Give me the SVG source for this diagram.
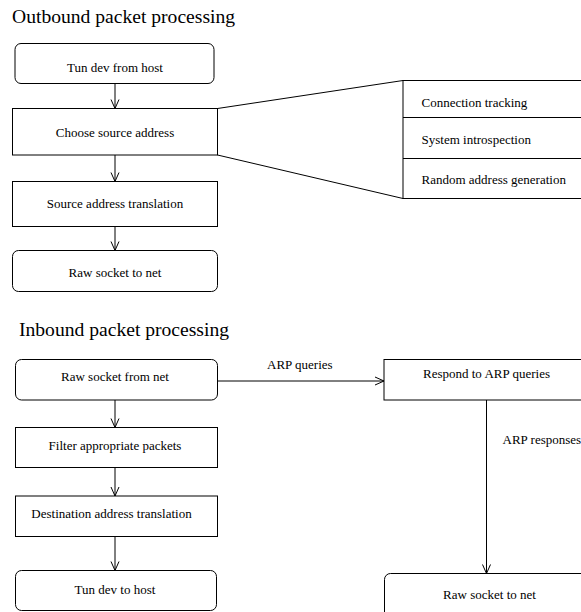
<svg xmlns="http://www.w3.org/2000/svg" width="581" height="612" viewBox="0 0 581 612">
<style>
.bx{fill:#fff;stroke:#000;stroke-width:1}
.t{font-family:"Liberation Serif","Times New Roman",serif;font-size:13px;fill:#000}
.c{text-anchor:middle}
.h{font-family:"Liberation Serif","Times New Roman",serif;font-size:19.6px;fill:#000}
.ln{stroke:#000;stroke-width:1;fill:none}
</style>
<defs>
<marker id="ah" viewBox="0 0 10 10" refX="10" refY="5" markerWidth="10" markerHeight="10" markerUnits="userSpaceOnUse" orient="auto">
<path d="M1,1 L10,5 L1,9" fill="none" stroke="#000" stroke-width="1"/>
</marker>
</defs>
<rect width="581" height="612" fill="#fff"/>
<text class="h" x="12" y="22.5">Outbound packet processing</text>
<text class="h" x="19" y="335.5">Inbound packet processing</text>
<g id="connectors">
<line class="ln" x1="115" y1="83.5" x2="115" y2="108.5" marker-end="url(#ah)"/>
<line class="ln" x1="115" y1="155" x2="115" y2="181.5" marker-end="url(#ah)"/>
<line class="ln" x1="115" y1="226.5" x2="115" y2="250.5" marker-end="url(#ah)"/>
<line class="ln" x1="217.5" y1="108.5" x2="403" y2="80.5"/>
<line class="ln" x1="217.5" y1="155" x2="403" y2="198.5"/>
<line class="ln" x1="115" y1="400" x2="115" y2="427.5" marker-end="url(#ah)"/>
<line class="ln" x1="115" y1="467.5" x2="115" y2="496" marker-end="url(#ah)"/>
<line class="ln" x1="115" y1="536.5" x2="115" y2="570.5" marker-end="url(#ah)"/>
<line class="ln" x1="217.5" y1="381" x2="384" y2="381" marker-end="url(#ah)"/>
<text class="t" x="267" y="369">ARP queries</text>
<line class="ln" x1="486.5" y1="400" x2="486.5" y2="573.5" marker-end="url(#ah)"/>
<text class="t" x="502.5" y="443.5">ARP responses</text>
</g>
<g id="n1"><rect class="bx" x="15" y="43.5" width="199" height="40" rx="6"/><text class="t c" x="115" y="72">Tun dev from host</text></g>
<g id="n2"><rect class="bx" x="12.5" y="108.5" width="205" height="46.5"/><text class="t c" x="115" y="137">Choose source address</text></g>
<g id="n3"><rect class="bx" x="12.5" y="181.5" width="205" height="45"/><text class="t c" x="115" y="207.5">Source address translation</text></g>
<g id="n4"><rect class="bx" x="12.5" y="250.5" width="205" height="41" rx="6"/><text class="t c" x="115" y="276.5">Raw socket to net</text></g>
<g id="n5"><rect class="bx" x="403" y="80.5" width="200" height="118"/>
<line class="ln" x1="403" y1="117.5" x2="603" y2="117.5"/>
<line class="ln" x1="403" y1="158.5" x2="603" y2="158.5"/>
<text class="t" x="421.5" y="106.5">Connection tracking</text>
<text class="t" x="421.5" y="143.5">System introspection</text>
<text class="t" x="421.5" y="183.5">Random address generation</text></g>
<g id="n6"><rect class="bx" x="15.5" y="359.5" width="202" height="40.5" rx="6"/><text class="t c" x="115" y="381">Raw socket from net</text></g>
<g id="n7"><rect class="bx" x="15.5" y="427.5" width="202" height="40"/><text class="t c" x="115" y="449.5">Filter appropriate packets</text></g>
<g id="n8"><rect class="bx" x="15.5" y="496" width="202" height="40.5"/><text class="t c" x="111.5" y="517.5">Destination address translation</text></g>
<g id="n9"><rect class="bx" x="15.5" y="570.5" width="201" height="40" rx="6"/><text class="t c" x="115" y="593.5">Tun dev to host</text></g>
<g id="n10"><rect class="bx" x="384" y="359.5" width="205" height="40.5"/><text class="t c" x="486.5" y="377.5">Respond to ARP queries</text></g>
<g id="n11"><rect class="bx" x="384.5" y="573.5" width="210" height="45" rx="6"/><text class="t c" x="489.5" y="598.5">Raw socket to net</text></g>
</svg>
